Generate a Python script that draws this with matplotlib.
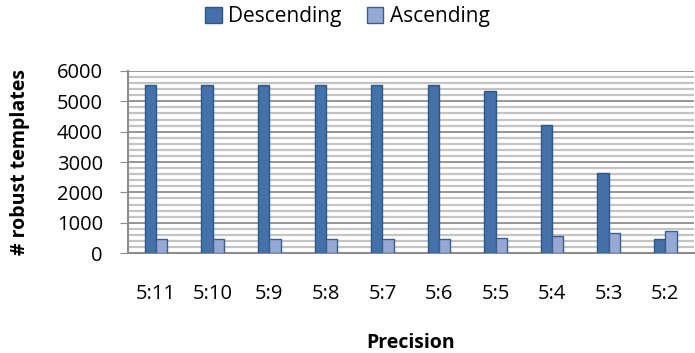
import matplotlib.pyplot as plt
import numpy as np

categories = ['5:11', '5:10', '5:9', '5:8', '5:7', '5:6', '5:5', '5:4', '5:3', '5:2']
descending = [5540, 5540, 5540, 5540, 5540, 5540, 5350, 4215, 2645, 480]
ascending = [470, 470, 470, 470, 475, 475, 500, 570, 660, 730]

plt.rcParams['font.family'] = ['Open Sans', 'DejaVu Sans']

fig = plt.figure(figsize=(6.95, 3.53), dpi=100)
ax = fig.add_axes([0.184, 0.283, 0.814, 0.516])

x = np.arange(len(categories))
w = 0.2
ax.bar(x - w / 2, descending, w, color='#4571A9', edgecolor='#2F5688', linewidth=1,
       label='Descending', zorder=3)
ax.bar(x + w / 2, ascending, w, color='#95A9D4', edgecolor='#3A5E90', linewidth=1,
       label='Ascending', zorder=3)

ax.set_xlim(-0.5, len(categories) - 0.5)
ax.set_ylim(0, 6000)
ax.set_yticks(range(0, 6001, 1000))
ax.set_yticks(range(0, 6001, 200), minor=True)
ax.grid(axis='y', which='minor', color='#C4C4C4', linewidth=1.6, zorder=0)
ax.grid(axis='y', which='major', color='#8C8C8C', linewidth=1.3, zorder=1)
ax.tick_params(axis='y', which='minor', length=0)
ax.tick_params(axis='y', which='major', length=6, color='#8C8C8C', labelsize=14.5, pad=12)
ax.set_xticks(x)
ax.set_xticklabels(categories)
ax.tick_params(axis='x', length=0, labelsize=14.5, pad=22)

for s in ['top', 'right']:
    ax.spines[s].set_visible(False)
for s in ['left', 'bottom']:
    ax.spines[s].set_color('#8C8C8C')
    ax.spines[s].set_linewidth(1.5)

ax.set_xlabel('Precision', fontsize=14, fontweight='bold', labelpad=21)
ax.set_ylabel('# robust templates', fontsize=14, fontweight='bold', labelpad=19)

fig.legend(loc='upper center', bbox_to_anchor=(0.5, 1.035), ncol=2, frameon=False,
           fontsize=15, handlelength=0.8, handleheight=0.8, handletextpad=0.3,
           columnspacing=1.2)

fig.savefig('out.png', dpi=100)
